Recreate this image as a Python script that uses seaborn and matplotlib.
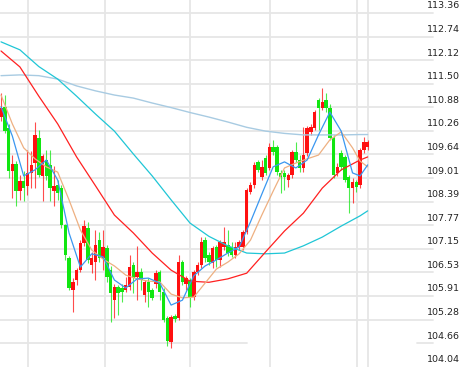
import matplotlib
matplotlib.use("Agg")
import matplotlib.pyplot as plt
import matplotlib.transforms as mtransforms
import seaborn as sns

# daily candles (price)
opens = [110.62, 110.89, 110.33, 109.20, 109.38, 108.67, 108.94, 108.81, 109.15, 109.41,
         110.07, 109.07, 109.49, 109.36, 108.67, 108.83, 108.75, 107.78, 106.91, 106.07,
         106.33, 106.59, 107.31, 107.70, 106.73, 106.80, 107.38, 106.91, 107.17, 106.59,
         105.80, 106.15, 106.12, 106.07, 106.15, 106.73, 106.41, 106.54, 105.94, 106.28,
         106.07, 106.23, 106.54, 106.01, 105.33, 104.70, 105.38, 105.33, 106.80, 106.23,
         106.33, 105.88, 106.54, 106.73, 107.38, 106.99, 106.78, 107.20, 106.86, 107.20,
         107.25, 107.20, 106.99, 107.20, 107.20, 107.59, 108.65, 108.83, 109.44, 109.04,
         109.54, 109.28, 109.83, 109.83, 109.15, 109.15, 108.96, 109.09, 109.70, 109.49,
         109.28, 109.67, 110.23, 110.33, 111.07, 110.86, 111.07, 110.86, 110.07, 109.15,
         109.67, 109.57, 109.04, 108.75, 108.91, 108.83, 109.75, 109.83]
highs = [111.25, 111.20, 110.44, 109.62, 109.46, 109.09, 109.20, 109.75, 109.73, 110.49,
         110.28, 109.65, 109.75, 109.75, 109.33, 108.96, 108.83, 107.80, 106.96, 106.38,
         106.65, 107.38, 107.91, 107.86, 107.07, 107.65, 107.59, 107.65, 107.25, 106.70,
         106.23, 106.20, 106.23, 106.41, 106.99, 106.80, 107.23, 106.65, 106.33, 106.38,
         106.12, 106.59, 106.59, 106.12, 105.38, 105.41, 105.44, 106.99, 106.86, 106.44,
         106.38, 106.59, 106.80, 107.46, 107.46, 107.07, 107.23, 107.25, 107.38, 107.73,
         107.65, 107.33, 107.33, 107.38, 107.65, 108.75, 108.91, 109.44, 109.49, 109.49,
         109.62, 109.94, 110.02, 109.88, 109.23, 109.23, 109.15, 109.75, 109.96, 109.62,
         110.36, 110.39, 110.44, 110.81, 111.12, 111.39, 111.25, 110.96, 110.15, 109.41,
         109.75, 109.62, 109.09, 109.02, 108.96, 109.81, 110.10, 110.02]
lows = [110.52, 110.20, 109.02, 108.49, 108.28, 108.44, 108.41, 108.57, 108.75, 108.75,
        109.04, 108.41, 108.96, 108.41, 108.28, 108.44, 107.70, 106.86, 106.07, 105.49,
        106.20, 106.54, 107.23, 106.78, 106.51, 106.33, 106.80, 106.59, 106.28, 105.23,
        105.33, 105.41, 105.75, 106.01, 106.07, 105.99, 105.80, 106.07, 105.75, 105.62,
        105.80, 106.12, 105.80, 105.23, 104.59, 104.54, 105.23, 105.28, 106.20, 106.07,
        105.62, 105.80, 106.46, 106.65, 106.80, 106.73, 106.65, 106.67, 106.67, 107.12,
        106.96, 106.94, 106.91, 107.12, 107.12, 107.54, 108.59, 108.75, 109.17, 108.96,
        109.09, 109.23, 109.62, 109.09, 108.62, 108.70, 108.78, 109.02, 109.44, 109.17,
        109.17, 109.60, 110.15, 110.28, 110.28, 110.81, 110.75, 110.02, 109.02, 109.07,
        109.23, 108.91, 108.09, 108.36, 108.65, 108.75, 109.67, 109.75]
closes = [110.86, 110.25, 109.20, 109.38, 108.67, 108.94, 108.75, 109.15, 109.36, 110.15,
          109.09, 109.60, 109.07, 108.75, 108.81, 108.62, 107.78, 106.99, 106.12, 106.28,
          106.59, 107.31, 107.75, 106.86, 106.91, 107.25, 106.91, 107.20, 106.41, 105.99,
          106.15, 105.99, 106.01, 106.20, 106.67, 106.38, 106.54, 106.33, 106.28, 106.01,
          105.86, 106.51, 106.01, 105.28, 104.73, 105.36, 105.30, 106.80, 106.28, 106.38,
          105.88, 106.54, 106.73, 107.33, 106.91, 106.80, 107.17, 106.86, 107.33, 107.33,
          107.04, 106.99, 107.20, 107.33, 107.59, 108.70, 108.83, 109.36, 109.23, 109.31,
          109.15, 109.83, 109.70, 109.17, 109.04, 109.04, 109.09, 109.70, 109.49, 109.28,
          109.62, 110.33, 110.36, 110.75, 110.86, 111.02, 110.86, 110.07, 109.09, 109.31,
          109.31, 108.96, 108.75, 108.91, 108.78, 109.75, 109.96, 109.96]

# moving averages, read at some candle positions
long_idx = [0, 5, 10, 15, 20, 25, 30, 35, 40, 45, 50, 55, 60, 65, 70, 75, 80, 85, 90, 95, 97]
ma_slow = [111.71, 111.73, 111.71, 111.62, 111.44, 111.31, 111.20, 111.12, 110.99, 110.87,
           110.74, 110.62, 110.49, 110.35, 110.25, 110.19, 110.15, 110.15, 110.15, 110.16, 110.16]
ma_cyan = [112.60, 112.39, 111.95, 111.62, 111.17, 110.70, 110.25, 109.65, 109.07, 108.44,
           107.83, 107.48, 107.23, 107.04, 107.02, 107.04, 107.23, 107.46, 107.75, 108.02, 108.15]
ma_red = [112.36, 111.94, 111.17, 110.44, 109.57, 108.81, 108.04, 107.57, 107.04, 106.59,
          106.30, 106.27, 106.36, 106.51, 107.07, 107.62, 108.09, 108.75, 109.23, 109.49, 109.57]

short_idx = list(range(0, 94, 3)) + [95, 97]
ma_blue = [110.89, 110.12, 109.07, 109.23, 109.49, 108.96, 107.57, 106.67, 107.02, 106.94,
           106.33, 106.12, 106.36, 106.38, 106.25, 105.67, 105.80, 106.44, 106.70, 106.86,
           107.04, 107.20, 107.86, 108.59, 109.31, 109.44, 109.28, 109.49, 110.15, 110.75,
           110.25, 109.15, 109.07, 109.36]
ma_orange = [111.20, 110.44, 109.81, 109.52, 109.31, 109.17, 108.44, 107.65, 107.12, 106.88,
             106.70, 106.46, 106.36, 106.30, 106.28, 105.96, 105.86, 105.88, 106.25, 106.62,
             106.80, 107.02, 107.38, 108.04, 108.67, 109.28, 109.41, 109.52, 109.62, 110.02,
             110.23, 109.81, 109.46, 109.31]

yticks = [113.36, 112.74, 112.12, 111.50, 110.88, 110.26, 109.64, 109.01,
          108.39, 107.77, 107.15, 106.53, 105.91, 105.28, 104.66, 104.04]
vgrid = [7.1, 27.5, 50.0, 71.2, 94.2, 97.1]

sns.set_style("white")
plt.rcParams['font.family'] = ['DejaVu Sans']

fig = plt.figure(figsize=(4.62, 3.67), dpi=100)
ax = fig.add_axes([0, 0, 1, 1])
ax.set_xlim(-0.265, 121.96)
ax.set_ylim(104.04, 113.702)
ax.axis('off')

grid_c = '#e6e6e6'
for v in yticks[:-1]:
    if v == 104.66:
        ax.axhline(v, xmin=0, xmax=247 / 462, color=grid_c, lw=1.3, zorder=0)
        ax.axhline(v, xmin=417 / 462, xmax=433 / 462, color=grid_c, lw=1.3, zorder=0)
    else:
        ax.axhline(v, xmin=0, xmax=433 / 462, color=grid_c, lw=1.3, zorder=0)
for g in vgrid:
    ax.axvline(g, color=grid_c, lw=1.3, zorder=0)

# candles: red = up, green = down
for i in range(len(opens)):
    o, h, l, c = opens[i], highs[i], lows[i], closes[i]
    col = '#ff1010' if c >= o else '#11e611'
    ax.vlines(i, l, h, color=col, lw=0.8, alpha=0.75, zorder=2)
    ax.bar(i, max(abs(c - o), 0.03), bottom=min(o, c), width=0.92,
           color=col, linewidth=0, zorder=3)

sns.lineplot(x=long_idx, y=ma_slow, color='#a8cbe2', lw=1.0, ax=ax, zorder=4)
sns.lineplot(x=long_idx, y=ma_cyan, color='#1fc6d6', lw=0.9, ax=ax, zorder=4)
sns.lineplot(x=long_idx, y=ma_red, color='#ff2020', lw=0.9, ax=ax, zorder=4)
sns.lineplot(x=short_idx, y=ma_orange, color='#eeb081', lw=0.9, ax=ax, zorder=5)
sns.lineplot(x=short_idx, y=ma_blue, color='#3a97f0', lw=0.9, ax=ax, zorder=5)

trans = mtransforms.blended_transform_factory(ax.transAxes, ax.transData)
trans = mtransforms.offset_copy(trans, fig=fig, y=7, units='dots')
for v in yticks:
    ax.text(427 / 462, v, f"{v:.2f}", transform=trans, ha='left', va='center',
            fontsize=6.8, color='#222222')

fig.savefig("out.png", dpi=100)
